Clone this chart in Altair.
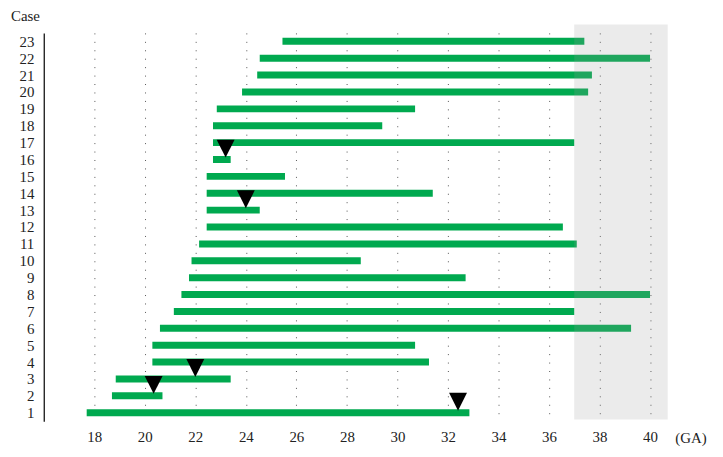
import altair as alt
import pandas as pd

# Data
cases = list(range(1, 24))
starts = [17.7, 18.7, 18.85, 20.3, 20.3, 20.6, 21.15, 21.45, 21.75, 21.85, 22.15,
          22.45, 22.45, 22.45, 22.45, 22.7, 22.7, 22.7, 22.85, 23.85, 24.45, 24.55, 25.45]
ends = [32.85, 20.7, 23.4, 31.25, 30.7, 39.25, 37.0, 40.0, 32.7, 28.55, 37.1,
        36.55, 24.55, 31.4, 25.55, 23.4, 37.0, 29.4, 30.7, 37.55, 37.7, 40.0, 37.4]

marker_cases = [1, 2, 3, 13, 16]
marker_ga = [32.4, 20.35, 22.0, 24.0, 23.2]

term_start = [37.0]
term_end = [40.7]

x_ticks = list(range(18, 41, 2))

bars_df = pd.DataFrame({"case": cases, "start": starts, "end": ends})
mark_df = pd.DataFrame({"case": marker_cases, "start": marker_ga})
shade_df = pd.DataFrame({"start": term_start, "end": term_end, "case": [0.6], "case2": [24.0]})

FONT = "Liberation Serif"
xscale = alt.Scale(domain=[16, 41], nice=False, zero=False)
yscale = alt.Scale(domain=[0.5, 23.5], nice=False, zero=False)

xaxis = alt.Axis(values=x_ticks, format="d", title=None, domain=False, ticks=False,
                 grid=True, gridDash=[1, 7.5], gridColor="#555555", gridWidth=1,
                 labelFont=FONT, labelFontSize=15, labelColor="#222222",
                 labelPadding=8)
yaxis = alt.Axis(values=cases, format="d", title=None, domain=True, domainColor="#000000",
                 domainWidth=1.2, ticks=False, grid=False,
                 labelFont=FONT, labelFontSize=15, labelColor="#222222",
                 labelPadding=10)

X = alt.X("start:Q", scale=xscale, axis=xaxis)
Y = alt.Y("case:Q", scale=yscale, axis=yaxis)

bars = alt.Chart(bars_df).mark_rule(strokeWidth=7, color="#00A94F", strokeCap="butt").encode(
    x=X, x2="end:Q", y=Y,
)

shade = alt.Chart(shade_df).mark_rect(color="#999999", opacity=0.2, clip=False).encode(
    x=X, x2="end:Q", y=Y, y2="case2:Q",
)

markers = alt.Chart(mark_df).mark_point(
    shape="M-1,-1L1,-1L0,1Z", size=324, filled=True, color="#000000", opacity=1, yOffset=-11
).encode(x=X, y=Y)

case_title = alt.Chart(pd.DataFrame({"t": ["Case"]})).mark_text(
    font=FONT, fontSize=15, align="left", baseline="middle", color="#222222"
).encode(x=alt.value(-33), y=alt.value(-16.5), text="t:N")

ga_title = alt.Chart(pd.DataFrame({"t": ["(GA)"]})).mark_text(
    font=FONT, fontSize=15, align="left", baseline="middle", color="#222222"
).encode(x=alt.value(636), y=alt.value(408), text="t:N")

chart = alt.layer(bars, shade, markers, case_title, ga_title).properties(
    width=636, height=391,
    autosize=alt.AutoSizeParams(type="none"),
    padding={"left": 36, "top": 23.5, "right": 40, "bottom": 30},
).configure_view(stroke=None)

chart.save("out.html", embed_options={"renderer": "svg", "actions": False})
